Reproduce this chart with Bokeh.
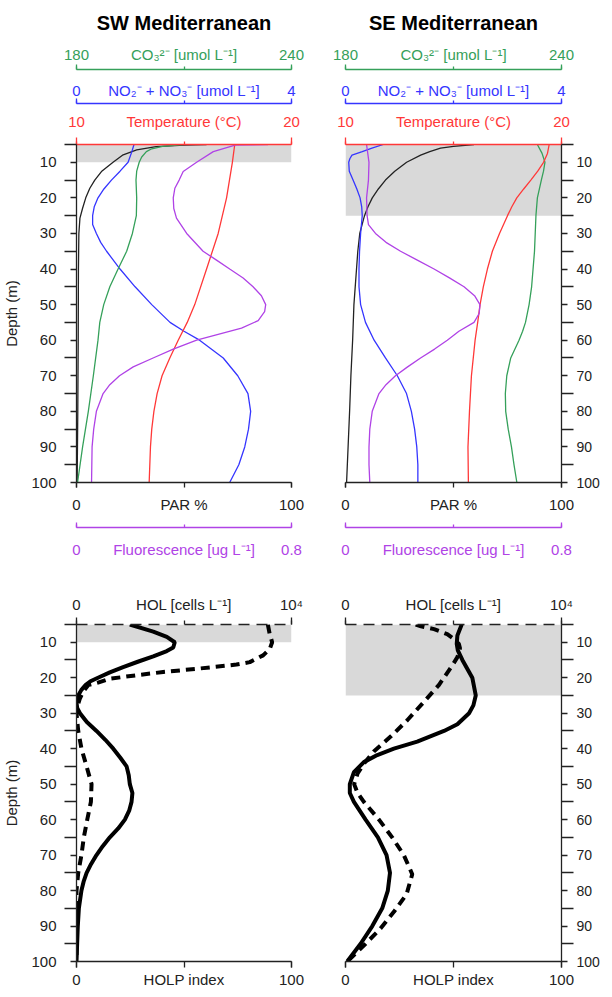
from bokeh.plotting import figure
from bokeh.models import Range1d, LinearAxis, FixedTicker, BoxAnnotation
from bokeh.layouts import column, row
from bokeh.embed import file_html
from bokeh.resources import INLINE

FONT = "Liberation Sans"
GREEN = "#35a05a"
BLUE = "#3535ff"
RED = "#ff3838"
PURPLE = "#b043e6"
DARK = "#222222"
SHADE = "#d9d9d9"

# ---------------- data ----------------
TITLES = ["SW Mediterranean", "SE Mediterranean"]
SHADE_BOTTOM = [10, 25]          # depth of the shaded surface layer (m)
DEPTH_TICKS = [10, 20, 30, 40, 50, 60, 70, 80, 90, 100]
DEPTH_MINOR = [5, 15, 25, 35, 45, 55, 65, 75, 85, 95]

# SW Mediterranean, top panel
SW_PAR_D = [5, 5.2, 5.6, 6.5, 7.9, 10, 12.6, 15, 17.3, 20, 23, 25.7, 30, 40, 60, 80, 100]
SW_PAR = [60.5, 50, 37, 28, 21.7, 17, 11.6, 8.5, 6.2, 4.3, 2.8, 1.6, 1.1, 0.9, 0.8, 0.6, 0.3]
SW_NO_D = [5, 7, 10, 12.5, 15, 17.5, 20, 22.5, 25, 27.5, 30, 32.5, 35, 40, 45, 50, 55, 57.5, 60, 65, 70, 75, 80, 85, 90, 95, 100]
SW_NO = [1.07, 1.03, 0.96, 0.81, 0.65, 0.51, 0.40, 0.33, 0.30, 0.30, 0.37, 0.45, 0.56, 0.81, 1.09, 1.40, 1.74, 2.0, 2.29, 2.73, 3.0, 3.19, 3.24, 3.2, 3.13, 3.02, 2.85]
SW_CO3_D = [5, 5.5, 6.2, 7, 8.5, 10, 12.5, 15, 20, 25, 30, 35, 40, 45, 50, 55, 60, 70, 80, 90, 100]
SW_CO3 = [209.8, 204, 201, 199.5, 198.2, 197.5, 196.8, 196.6, 196.8, 196.7, 195.6, 194, 191.6, 189.3, 187.6, 186.5, 186, 184.7, 183.3, 181.7, 180.3]
SW_TEMP_D = [5, 10, 20, 30, 40, 50, 55, 60, 65, 70, 75, 80, 85, 90, 100]
SW_TEMP = [17.36, 17.25, 16.98, 16.59, 16.05, 15.5, 15.15, 14.73, 14.34, 13.98, 13.75, 13.6, 13.5, 13.44, 13.38]
SW_FL_D = [5, 5.2, 7, 10, 12.6, 15, 17.3, 20, 23, 25.7, 30, 35, 37.5, 40, 42.5, 45, 47.5, 50, 52, 54.5, 56.6, 60, 62.5, 65, 67.5, 70, 72.5, 75, 80, 85, 90, 100]
SW_FL = [0.713, 0.59, 0.509, 0.447, 0.397, 0.382, 0.366, 0.36, 0.362, 0.372, 0.41, 0.471, 0.521, 0.57, 0.62, 0.657, 0.688, 0.704, 0.70, 0.676, 0.614, 0.447, 0.36, 0.285, 0.211, 0.16, 0.124, 0.099, 0.074, 0.064, 0.058, 0.056]

# SE Mediterranean, top panel
SE_PAR_D = [5, 5.5, 6, 7, 8, 10, 12.5, 15, 17.5, 20, 22.5, 25, 30, 35, 40, 50, 60, 70, 80, 90, 100]
SE_PAR = [59.5, 50, 44, 39, 34.8, 28.3, 22.8, 18.5, 15.2, 12.4, 10.4, 8.8, 6.6, 5.7, 5.1, 3.9, 3.3, 2.5, 1.9, 1.2, 0.5]
SE_NO_D = [5, 6, 7, 8, 9, 10, 12.5, 15, 17.5, 20, 22.5, 25, 30, 35, 40, 45, 50, 55, 60, 65, 70, 75, 80, 85, 90, 95, 100]
SE_NO = [0.70, 0.49, 0.31, 0.12, 0.08, 0.06, 0.07, 0.14, 0.21, 0.27, 0.30, 0.31, 0.28, 0.26, 0.25, 0.25, 0.28, 0.37, 0.53, 0.74, 0.96, 1.13, 1.22, 1.28, 1.32, 1.34, 1.34]
SE_CO3_D = [5, 7.5, 10, 12.5, 15, 20, 25, 30, 35, 40, 45, 50, 55, 57.5, 60, 65, 70, 75, 80, 85, 90, 95, 100]
SE_CO3 = [233.3, 234.6, 235.4, 235.0, 234.4, 233.3, 232.9, 232.7, 232.5, 232.1, 231.7, 231.0, 230.0, 229.2, 228.2, 225.9, 224.8, 224.4, 224.5, 225.2, 226.1, 226.8, 227.6]
SE_TEMP_D = [5, 7.5, 10, 12.5, 15, 17.5, 20, 22.5, 25, 30, 35, 40, 45, 50, 55, 60, 70, 80, 90, 100]
SE_TEMP = [19.43, 19.35, 19.17, 18.9, 18.58, 18.25, 17.93, 17.7, 17.5, 17.13, 16.8, 16.57, 16.38, 16.23, 16.12, 16.0, 15.83, 15.74, 15.67, 15.69]
SE_FL_D = [5, 10, 15, 20, 25, 27.5, 30, 32.5, 35, 37.5, 40, 42.5, 45, 47.5, 50, 52.5, 55, 57.5, 60, 62.5, 65, 67.5, 70, 72.5, 75, 80, 85, 90, 95, 100]
SE_FL = [0.078, 0.087, 0.085, 0.078, 0.080, 0.085, 0.111, 0.15, 0.204, 0.266, 0.328, 0.385, 0.439, 0.478, 0.498, 0.495, 0.476, 0.42, 0.377, 0.33, 0.278, 0.23, 0.185, 0.15, 0.124, 0.099, 0.09, 0.087, 0.087, 0.09]

# SW Mediterranean, bottom panel
SW_HOLP_D = [5, 7, 8.5, 10, 11.5, 12.5, 14, 15.5, 17, 18.5, 20, 21, 22, 23.5, 25, 27, 28.5, 30, 32.5, 35, 37.5, 40, 42.5, 45, 47.5, 50, 52.5, 55, 57.5, 60, 62.5, 65, 67.5, 70, 72.5, 75, 77.5, 80, 85, 90, 95, 100]
SW_HOLP = [24.8, 35.7, 42, 45.7, 45, 42, 35.7, 28.5, 21.7, 15.5, 10, 6.5, 4.3, 2.2, 0.8, 0, 0.3, 1.6, 4.8, 9.3, 13.4, 17.1, 20.3, 23.3, 24.3, 24.8, 26, 25.6, 24.5, 22.5, 19.4, 15.5, 12.2, 9.3, 6.8, 4.7, 3.3, 2.3, 1.1, 0.6, 0.3, 0]
SW_HOL_D = [5, 7.5, 10, 11.9, 13.7, 15.6, 16.3, 17.5, 18.4, 19.3, 20.3, 21.4, 22.1, 24, 26, 28, 30, 35, 40, 45, 50, 55, 60, 65, 70, 75, 80, 85, 90, 95, 100]
SW_HOL = [8900, 8980, 9100, 8990, 8680, 8060, 7440, 5580, 4030, 2790, 1550, 1000, 540, 300, 150, 50, 0, 80, 230, 470, 700, 670, 500, 340, 230, 80, 0, 0, 30, 0, 0]

# SE Mediterranean, bottom panel
SE_HOLP_D = [5, 8.1, 10.5, 12.3, 15, 20, 25, 27.8, 30, 33.1, 35, 38, 40, 41.8, 43.8, 46.6, 50, 52.5, 55, 60, 65, 70, 75, 80, 85, 90, 95, 100]
SE_HOLP = [53.8, 51.8, 51.5, 52, 54.1, 58.7, 60.3, 59.2, 57.2, 51.8, 45.6, 33.2, 22.4, 14.7, 8.5, 3.9, 2.0, 2.0, 3.9, 9.3, 15, 19, 20.6, 19.6, 17, 12.4, 7, 0.8]
SE_HOL_D = [5, 5.5, 6.3, 7.7, 9, 10.5, 11.7, 14.2, 16.5, 22, 26.8, 32, 36.6, 40.8, 43.6, 47, 50, 52.5, 55, 60, 65, 70, 75.4, 81, 86, 90.7, 95, 100]
SE_HOL = [3250, 3500, 4100, 4710, 5000, 5250, 5300, 5180, 4950, 4330, 3630, 2860, 2090, 1310, 930, 560, 400, 560, 850, 1550, 2160, 2700, 3090, 2830, 2240, 1620, 930, 80]

TOP_DATA = [
    dict(par=(SW_PAR_D, SW_PAR), no=(SW_NO_D, SW_NO), co3=(SW_CO3_D, SW_CO3), temp=(SW_TEMP_D, SW_TEMP), fl=(SW_FL_D, SW_FL)),
    dict(par=(SE_PAR_D, SE_PAR), no=(SE_NO_D, SE_NO), co3=(SE_CO3_D, SE_CO3), temp=(SE_TEMP_D, SE_TEMP), fl=(SE_FL_D, SE_FL)),
]
BOTTOM_DATA = [
    dict(holp=(SW_HOLP_D, SW_HOLP), hol=(SW_HOL_D, SW_HOL)),
    dict(holp=(SE_HOLP_D, SE_HOLP), hol=(SE_HOL_D, SE_HOL)),
]

# ---------------- layout constants ----------------
FRAME_W = [215, 216]
BORDER_L = [72, 34]
BORDER_R = [20, 39]
TOP_FRAME_H = 338
BOT_FRAME_H = 337


def base_fig(i, frame_h, mbt, mbb):
    p = figure(frame_width=FRAME_W[i], frame_height=frame_h,
               min_border_left=BORDER_L[i], min_border_right=BORDER_R[i],
               min_border_top=mbt, min_border_bottom=mbb,
               x_range=Range1d(0, 100), y_range=Range1d(100, 5),
               x_axis_location=None, y_axis_location=None,
               output_backend="svg", toolbar_location=None, tools="")
    p.outline_line_color = None
    p.grid.visible = False
    p.background_fill_color = "white"
    p.border_fill_color = "white"
    return p


def style_axis(ax, color, width=1.3):
    ax.axis_line_color = color
    ax.axis_line_width = width
    ax.major_tick_line_color = color
    ax.minor_tick_line_color = color
    ax.major_tick_line_width = width
    ax.minor_tick_line_width = width
    ax.major_label_text_color = color
    ax.major_label_text_font = FONT
    ax.major_label_text_font_size = "15px"
    ax.axis_label_text_font = FONT


def scale_axis(range_name, lo, hi, lo_txt, label, hi_txt, color,
               major_len, minor_len, standoff, pad=None, inward=False, dash=None):
    mid = (lo + hi) / 2
    kw = {} if range_name is None else {"x_range_name": range_name}
    ax = LinearAxis(ticker=FixedTicker(ticks=[lo, mid, hi], minor_ticks=[lo, hi]), **kw)
    style_axis(ax, color)
    ax.major_label_overrides = {lo: lo_txt, mid: label, hi: hi_txt}
    if inward:
        ax.major_tick_in, ax.minor_tick_in = major_len, minor_len
        ax.major_tick_out, ax.minor_tick_out = 0, 0
    else:
        ax.major_tick_out, ax.minor_tick_out = major_len, minor_len
        ax.major_tick_in, ax.minor_tick_in = 0, 0
    ax.major_label_standoff = standoff
    if pad is not None:
        ax.axis_label = " "
        ax.axis_label_text_font_size = "1px"
        ax.axis_label_standoff = pad
    if dash is not None:
        ax.axis_line_dash = dash
    return ax


def depth_axis(p, i, show_label):
    ax = LinearAxis(ticker=FixedTicker(ticks=DEPTH_TICKS, minor_ticks=DEPTH_MINOR))
    style_axis(ax, DARK)
    ax.major_tick_out, ax.minor_tick_out = 6, 12
    ax.major_tick_in, ax.minor_tick_in = 0, 0
    if i == 0:
        ax.major_label_standoff = 8
        if show_label:
            ax.axis_label = "Depth (m)"
            ax.axis_label_text_font_size = "15px"
            ax.axis_label_text_font_style = "normal"
            ax.axis_label_text_color = DARK
            ax.axis_label_standoff = 8
        p.add_layout(ax, "left")
    else:
        ax.major_label_text_font_size = "14px"
        ax.major_label_standoff = 3
        p.add_layout(ax, "right")


def top_panel(i):
    d = TOP_DATA[i]
    p = base_fig(i, TOP_FRAME_H, 138, 80)
    p.extra_x_ranges = {"co3": Range1d(180, 240), "no": Range1d(0, 4),
                        "temp": Range1d(10, 20), "fl": Range1d(0, 0.8)}
    p.title.text = TITLES[i]
    p.title.align = "center"
    p.title.text_font = FONT
    p.title.text_font_size = "20px"
    p.title.text_font_style = "bold"
    p.title.text_color = "black"
    p.title.standoff = 18

    p.add_layout(BoxAnnotation(top=5, bottom=SHADE_BOTTOM[i], fill_color=SHADE,
                               fill_alpha=1, line_color=None, level="underlay"))

    p.line(d["par"][1], d["par"][0], color=DARK, line_width=1.3)
    p.line(d["no"][1], d["no"][0], x_range_name="no", color=BLUE, line_width=1.3)
    p.line(d["co3"][1], d["co3"][0], x_range_name="co3", color=GREEN, line_width=1.3)
    p.line(d["temp"][1], d["temp"][0], x_range_name="temp", color=RED, line_width=1.3)
    p.line(d["fl"][1], d["fl"][0], x_range_name="fl", color=PURPLE, line_width=1.3)

    # scale bars above: nearest first
    p.add_layout(scale_axis("temp", 10, 20, "10", "Temperature (°C)", "20", RED, 3, 7, 8, pad=2), "above")
    p.add_layout(scale_axis("no", 0, 4, "0", "NO₂⁻ + NO₃⁻ [umol L⁻¹]", "4", BLUE, 3, 5, 0, pad=5), "above")
    p.add_layout(scale_axis("co3", 180, 240, "180", "CO₃²⁻ [umol L⁻¹]", "240", GREEN, 3, 5, 2), "above")
    # below
    p.add_layout(scale_axis(None, 0, 100, "0", "PAR %", "100", DARK, 5, 5, 8, pad=8), "below")
    p.add_layout(scale_axis("fl", 0, 0.8, "0", "Fluorescence [ug L⁻¹]", "0.8", PURPLE, 3, 5, 13, inward=True), "below")

    depth_axis(p, i, True)
    return p


def bottom_panel(i):
    d = BOTTOM_DATA[i]
    p = base_fig(i, BOT_FRAME_H, 62, 26)
    p.extra_x_ranges = {"hol": Range1d(0, 10000)}
    p.add_layout(BoxAnnotation(top=5, bottom=SHADE_BOTTOM[i], fill_color=SHADE,
                               fill_alpha=1, line_color=None, level="underlay"))
    p.line(d["holp"][1], d["holp"][0], color="black", line_width=4)
    p.line(d["hol"][1], d["hol"][0], x_range_name="hol", color="black", line_width=4, line_dash="9 6")

    p.add_layout(scale_axis("hol", 0, 10000, "0", "HOL [cells L⁻¹]", "10⁴", DARK, 4, 7, 5, dash="11 7"), "above")
    p.add_layout(scale_axis(None, 0, 100, "0", "HOLP index", "100", DARK, 6, 6, 3), "below")
    depth_axis(p, i, True)
    return p


top = row(top_panel(0), top_panel(1))
bottom = row(bottom_panel(0), bottom_panel(1))
layout = column(top, bottom)

open("out.html", "w").write(file_html(layout, INLINE))
